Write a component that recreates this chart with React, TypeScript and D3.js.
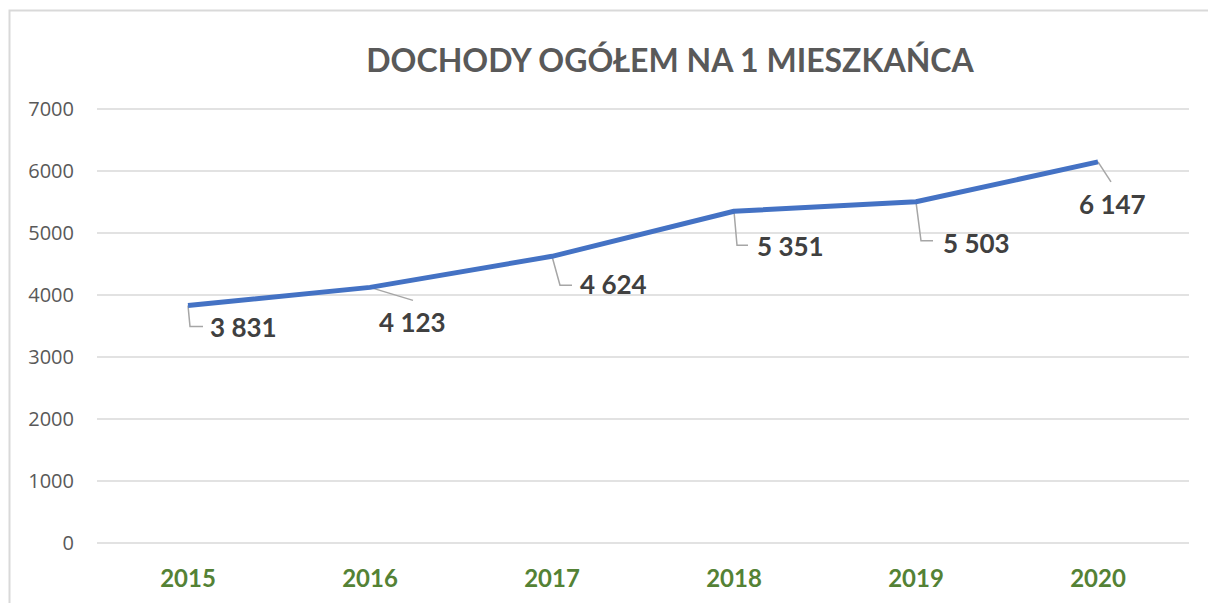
import React, { useEffect, useRef } from "react";
import * as d3 from "d3";

const years = ["2015", "2016", "2017", "2018", "2019", "2020"];
const values = [3831, 4123, 4624, 5351, 5503, 6147];
const yTicks = [0, 1000, 2000, 3000, 4000, 5000, 6000, 7000];

// label placement relative to the point: leader path points + text anchor
const labelOffsets = [
  { leader: [[0, 0], [2, 21], [15, 21]], tx: 22, ty: 32 },
  { leader: [[0, 0], [43, 13]], tx: 9, ty: 45 },
  { leader: [[0, 0], [8, 29], [20, 29]], tx: 28, ty: 38 },
  { leader: [[0, 0], [3, 34], [14, 34]], tx: 23, ty: 45 },
  { leader: [[0, 0], [5, 39], [17, 39]], tx: 27, ty: 51 },
  { leader: [[0, 0], [13, 20]], tx: -19, ty: 52 },
];

const width = 1208;
const height = 603;
const margin = { top: 109, right: 19, bottom: 60, left: 97 };

const fmt = (v: number) => d3.format(",")(v).replace(/,/g, " ");

const App = () => {
  const ref = useRef<SVGSVGElement>(null);

  useEffect(() => {
    const svg = d3.select(ref.current);
    svg.selectAll("*").remove();

    const x = d3
      .scaleBand()
      .domain(years)
      .range([margin.left, width - margin.right]);
    const y = d3
      .scaleLinear()
      .domain([0, 7000])
      .range([height - margin.bottom, margin.top]);

    // chart frame
    svg
      .append("rect")
      .attr("x", 9.5)
      .attr("y", 10.5)
      .attr("width", 1230)
      .attr("height", 640)
      .attr("fill", "white")
      .attr("stroke", "#d9d9d9")
      .attr("stroke-width", 2);

    svg
      .append("text")
      .attr("x", 670)
      .attr("y", 72)
      .attr("text-anchor", "middle")
      .attr("font-family", "Lato, 'Open Sans', sans-serif")
      .attr("font-weight", "bold")
      .attr("font-size", 32)
      .attr("fill", "#595959")
      .text("DOCHODY OGÓŁEM NA 1 MIESZKAŃCA");

    // gridlines
    svg
      .append("g")
      .selectAll("line")
      .data(yTicks)
      .join("line")
      .attr("x1", margin.left)
      .attr("x2", width - margin.right)
      .attr("y1", (d) => y(d))
      .attr("y2", (d) => y(d))
      .attr("stroke", "#d9d9d9")
      .attr("stroke-width", 1.5);

    svg
      .append("g")
      .attr("font-family", "'Open Sans', sans-serif")
      .attr("font-size", 20)
      .attr("fill", "#595959")
      .attr("text-anchor", "end")
      .selectAll("text")
      .data(yTicks)
      .join("text")
      .attr("x", 74)
      .attr("y", (d) => y(d) + 7)
      .text((d) => d);

    svg
      .append("g")
      .attr("font-family", "Lato, sans-serif")
      .attr("font-weight", "bold")
      .attr("font-size", 24)
      .attr("fill", "#548235")
      .attr("text-anchor", "middle")
      .selectAll("text")
      .data(years)
      .join("text")
      .attr("x", (d) => x(d)! + x.bandwidth() / 2)
      .attr("y", 587)
      .text((d) => d);

    const px = (i: number) => x(years[i])! + x.bandwidth() / 2;
    const line = d3
      .line<number>()
      .x((_, i) => px(i))
      .y((d) => y(d));

    // leader lines
    svg
      .append("g")
      .selectAll("path")
      .data(values)
      .join("path")
      .attr("d", (d, i) =>
        d3.line()(
          labelOffsets[i].leader.map(([dx, dy]) => [px(i) + dx, y(d) + dy] as [number, number])
        )
      )
      .attr("fill", "none")
      .attr("stroke", "#a6a6a6")
      .attr("stroke-width", 1.5);

    svg
      .append("path")
      .datum(values)
      .attr("d", line)
      .attr("fill", "none")
      .attr("stroke", "#4472c4")
      .attr("stroke-width", 5)
      .attr("stroke-linejoin", "round");

    svg
      .append("g")
      .attr("font-family", "Lato, sans-serif")
      .attr("font-weight", "bold")
      .attr("font-size", 26)
      .attr("fill", "#404040")
      .selectAll("text")
      .data(values)
      .join("text")
      .attr("x", (d, i) => px(i) + labelOffsets[i].tx)
      .attr("y", (d, i) => y(d) + labelOffsets[i].ty)
      .text((d) => fmt(d));
  }, []);

  return (
    <svg
      ref={ref}
      width={width}
      height={height}
      style={{ position: "absolute", left: 0, top: 0, display: "block" }}
    />
  );
};

export default App;
